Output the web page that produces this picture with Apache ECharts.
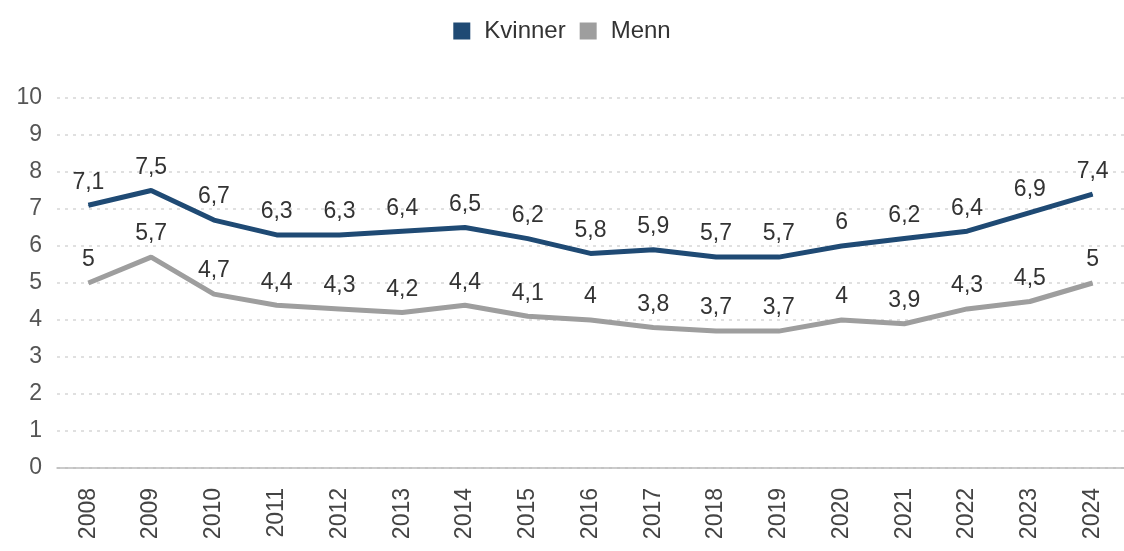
<!DOCTYPE html>
<html><head><meta charset="utf-8">
<script src="https://cdn.jsdelivr.net/npm/echarts@6/dist/echarts.min.js"></script>
<style>html,body{margin:0;padding:0;background:#fff}#c{width:1124px;height:551px}</style>
</head><body><div id="c"></div>
<script>
const years = ['2008','2009','2010','2011','2012','2013','2014','2015','2016','2017','2018','2019','2020','2021','2022','2023','2024'];
const kvinner = [7.1,7.5,6.7,6.3,6.3,6.4,6.5,6.2,5.8,5.9,5.7,5.7,6,6.2,6.4,6.9,7.4];
const menn = [5,5.7,4.7,4.4,4.3,4.2,4.4,4.1,4,3.8,3.7,3.7,4,3.9,4.3,4.5,5];
const yTicks = [0,1,2,3,4,5,6,7,8,9,10];

const fmt = p => String(p.value).replace('.', ',');
const FF = 'Arial, Liberation Sans, sans-serif';
const chart = echarts.init(document.getElementById('c'));
chart.setOption({
  animation:false,
  textStyle:{fontFamily:FF},
  legend:{top:14,left:'center',itemWidth:17,itemHeight:17,itemGap:14,icon:'rect',
    textStyle:{fontSize:24,color:'#333',fontFamily:FF,padding:[0,0,0,9]},
    data:['Kvinner','Menn']},
  grid:{left:57,right:-10,top:98,bottom:83,containLabel:false},
  xAxis:{type:'category',data:years,boundaryGap:true,
    axisLine:{lineStyle:{color:'#bbb',width:1.5}},
    axisTick:{alignWithLabel:true,length:6,lineStyle:{color:'#bbb'}},
    axisLabel:{rotate:90,fontSize:23,color:'#444',margin:20}},
  yAxis:{type:'value',min:yTicks[0],max:yTicks[yTicks.length-1],interval:1,
    axisLine:{show:false},axisTick:{show:false},
    axisLabel:{fontSize:23,color:'#555',margin:15},
    splitLine:{lineStyle:{type:[3,5],color:'#d6d6d6',width:1.5}}},
  series:[
    {name:'Kvinner',type:'line',data:kvinner,symbol:'circle',symbolSize:1,showSymbol:true,
      lineStyle:{width:5,color:'#1f4a74'},itemStyle:{color:'#1f4a74'},
      label:{show:true,position:'top',distance:11,fontSize:23,color:'#333',formatter:fmt}},
    {name:'Menn',type:'line',data:menn,symbol:'circle',symbolSize:1,showSymbol:true,
      lineStyle:{width:5,color:'#9e9e9e'},itemStyle:{color:'#9e9e9e'},
      label:{show:true,position:'top',distance:11,fontSize:23,color:'#333',formatter:fmt}}
  ]
});
</script></body></html>
